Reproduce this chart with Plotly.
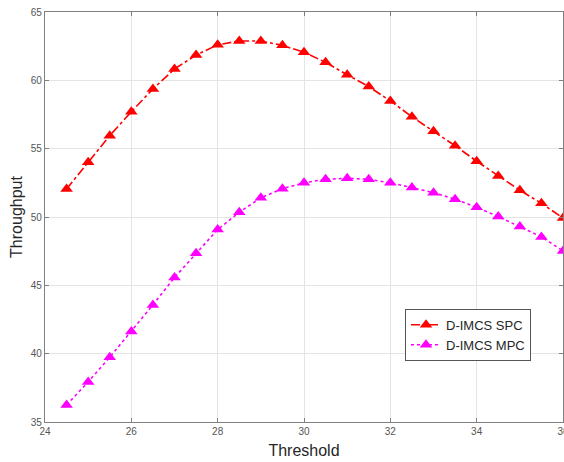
import plotly.graph_objects as go

threshold = [24.5, 25, 25.5, 26, 26.5, 27, 27.5, 28, 28.5, 29, 29.5, 30,
             30.5, 31, 31.5, 32, 32.5, 33, 33.5, 34, 34.5, 35, 35.5, 36]
spc = [52.05, 54.0, 55.95, 57.7, 59.37, 60.83, 61.85, 62.6, 62.88, 62.88, 62.56, 62.05,
       61.32, 60.41, 59.54, 58.49, 57.34, 56.27, 55.22, 54.08, 53.0, 51.96, 51.0, 49.93]
mpc = [36.25, 37.93, 39.74, 41.62, 43.57, 45.57, 47.35, 49.08, 50.35, 51.4, 52.07, 52.5,
       52.76, 52.83, 52.76, 52.5, 52.15, 51.78, 51.3, 50.71, 50.03, 49.3, 48.54, 47.52]

x_ticks = [24, 26, 28, 30, 32, 34, 36]
y_ticks = [35, 40, 45, 50, 55, 60, 65]

FONT = "Liberation Sans, Arial, Helvetica, sans-serif"

fig = go.Figure()
fig.add_trace(go.Scatter(
    x=threshold, y=spc, name="D-IMCS SPC", mode="lines+markers",
    line=dict(color="#ff0000", width=1.6, dash="dashdot"),
    marker=dict(symbol="triangle-up", size=11, color="#ff0000"),
))
fig.add_trace(go.Scatter(
    x=threshold, y=mpc, name="D-IMCS MPC", mode="lines+markers",
    line=dict(color="#ff00ff", width=1.6, dash="dot"),
    marker=dict(symbol="triangle-up", size=11, color="#ff00ff"),
))

axis_common = dict(
    showline=True, linecolor="#808080", linewidth=1.2, mirror="ticks",
    ticks="inside", ticklen=4, tickcolor="#808080",
    showgrid=True, gridcolor="#e4e4e4", gridwidth=1,
    zeroline=False,
    tickfont=dict(family=FONT, size=10, color="#555555"),
)

fig.update_xaxes(
    range=[24, 36], tickvals=x_ticks, ticktext=[str(v) for v in x_ticks],
    title=dict(text="Threshold", font=dict(family=FONT, size=16, color="#262626"), standoff=8),
    ticklabeloverflow="allow",
    **axis_common,
)
fig.update_yaxes(
    range=[35, 65], tickvals=y_ticks, ticktext=[str(v) for v in y_ticks],
    title=dict(text="Throughput", font=dict(family=FONT, size=16, color="#262626"), standoff=4),
    **axis_common,
)

fig.update_layout(
    width=564, height=462,
    margin=dict(l=45, r=1, t=12, b=40, autoexpand=False),
    paper_bgcolor="white", plot_bgcolor="white",
    showlegend=True,
    legend=dict(
        x=0.695, y=0.276, xanchor="left", yanchor="top",
        bgcolor="white", bordercolor="#555555", borderwidth=1,
        font=dict(family=FONT, size=13, color="#262626"),
        tracegroupgap=0, itemsizing="trace",
    ),
)

fig.write_html("out.html")
